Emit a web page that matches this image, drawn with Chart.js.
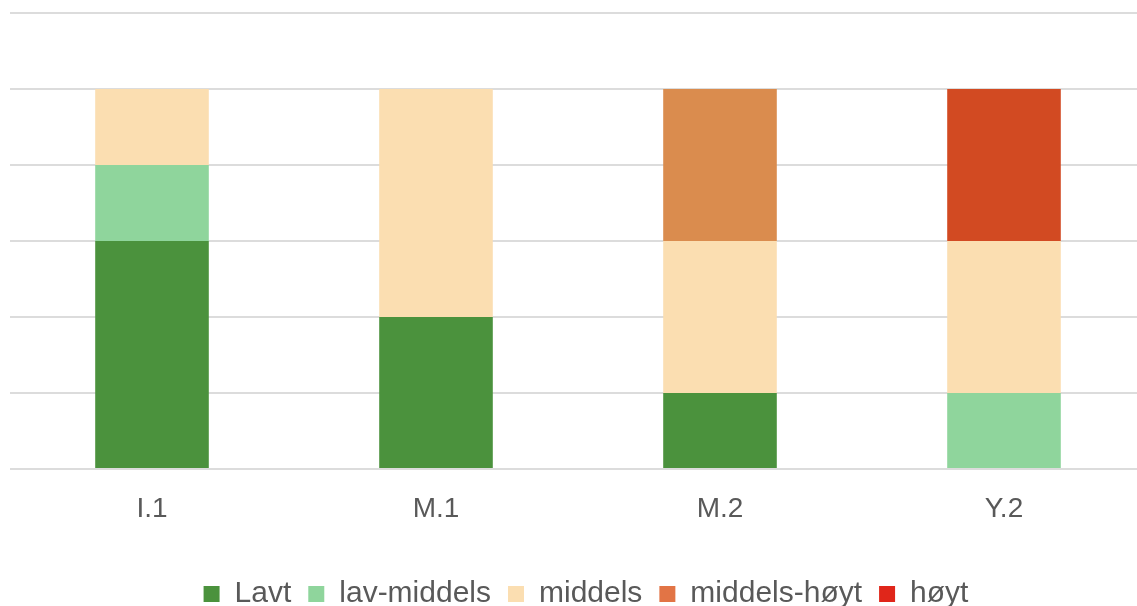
<!DOCTYPE html>
<html>
<head>
<meta charset="utf-8">
<script src="https://cdn.jsdelivr.net/npm/chart.js@4"></script>
<style>
  html, body { margin: 0; padding: 0; background: #ffffff; overflow: hidden; }
  #wrap { width: 1146px; height: 606px; position: relative; }
</style>
</head>
<body>
<div id="wrap"><canvas id="chart"></canvas></div>
<script>
// Categories (bars) and stacked series counts
const categories = ['I.1', 'M.1', 'M.2', 'Y.2'];
const seriesNames = ['Lavt', 'lav-middels', 'middels', 'middels-høyt', 'høyt'];
const lavt        = [3, 2, 1, 0];
const lavMiddels  = [1, 0, 0, 1];
const middels     = [1, 3, 2, 2];
const middelsHoyt = [0, 0, 2, 0];
const hoyt        = [0, 0, 0, 2];

// Bar fills and the (slightly different) legend swatch fills
const barColors    = ['#4b923d', '#8fd59c', '#fbdeb1', '#da8c4e', '#d24a22'];
const legendColors = ['#4b923d', '#8fd59c', '#fbdeb1', '#e27445', '#e0261a'];

const seriesValues = [lavt, lavMiddels, middels, middelsHoyt, hoyt];

const FONT = "'Liberation Sans', Arial, sans-serif";
const TEXT = '#595959';

// Nudge the legend row sideways after layout
const legendShift = {
  id: 'legendShift',
  afterLayout(chart) {
    const lg = chart.legend;
    if (lg) { lg.left += 8; lg.right += 8; }
  }
};

new Chart(document.getElementById('chart'), {
  type: 'bar',
  data: {
    labels: categories,
    datasets: seriesNames.map((name, i) => ({
      label: name,
      data: seriesValues[i],
      backgroundColor: barColors[i],
      borderWidth: 0,
      categoryPercentage: 1.0,
      barPercentage: 0.4
    }))
  },
  options: {
    responsive: true,
    maintainAspectRatio: false,
    animation: false,
    devicePixelRatio: 1,
    layout: { padding: { top: 13, left: 10, right: 0, bottom: -13 } },
    plugins: {
      tooltip: { enabled: false },
      legend: {
        position: 'bottom',
        labels: {
          boxWidth: 16,
          boxHeight: 16,
          padding: 17,
          color: TEXT,
          font: { family: FONT, size: 30 },
          generateLabels(chart) {
            return chart.data.datasets.map((ds, i) => ({
              text: ds.label,
              fillStyle: legendColors[i],
              strokeStyle: legendColors[i],
              lineWidth: 0,
              hidden: false,
              datasetIndex: i,
              fontColor: TEXT
            }));
          }
        }
      }
    },
    scales: {
      x: {
        stacked: true,
        grid: { display: false, drawTicks: false },
        border: { display: false },
        ticks: {
          color: TEXT,
          padding: 23,
          font: { family: FONT, size: 28 }
        },
        afterFit(axis) { axis.height = 93; }
      },
      y: {
        stacked: true,
        min: 0,
        max: 6,
        ticks: { stepSize: 1, display: false },
        grid: { color: '#dcdcdc', lineWidth: 2, drawTicks: false },
        border: { display: false },
        afterFit(axis) { axis.width = 0; }
      }
    }
  },
  plugins: [legendShift]
});
</script>
</body>
</html>
